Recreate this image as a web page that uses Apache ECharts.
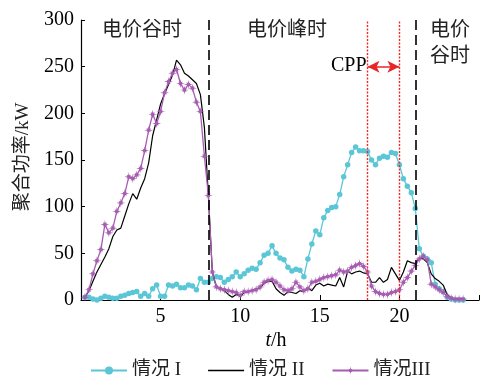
<!DOCTYPE html>
<html>
<head>
<meta charset="utf-8">
<script src="https://cdn.jsdelivr.net/npm/echarts@6/dist/echarts.min.js"></script>
<style>
  html, body { margin: 0; padding: 0; background: #fff; }
  #main { width: 482px; height: 376px; }
</style>
</head>
<body>
<div id="main"></div>
<script>
// 时间 t/h，每 15 min 一个点
var hours = [
  0.25, 0.5, 0.75, 1, 1.25, 1.5, 1.75, 2, 2.25, 2.5, 2.75, 3, 3.25, 3.5, 3.75, 4,
  4.25, 4.5, 4.75, 5, 5.25, 5.5, 5.75, 6, 6.25, 6.5, 6.75, 7, 7.25, 7.5, 7.75, 8,
  8.25, 8.5, 8.75, 9, 9.25, 9.5, 9.75, 10, 10.25, 10.5, 10.75, 11, 11.25, 11.5, 11.75, 12,
  12.25, 12.5, 12.75, 13, 13.25, 13.5, 13.75, 14, 14.25, 14.5, 14.75, 15, 15.25, 15.5, 15.75, 16,
  16.25, 16.5, 16.75, 17, 17.25, 17.5, 17.75, 18, 18.25, 18.5, 18.75, 19, 19.25, 19.5, 19.75, 20,
  20.25, 20.5, 20.75, 21, 21.25, 21.5, 21.75, 22, 22.25, 22.5, 22.75, 23, 23.25, 23.5, 23.75, 24
];
// 情况 I
var case1 = [
  3, 3, 1, 0, 2, 4, 3, 2, 2, 4, 5, 7, 8, 9, 4, 7,
  4, 12, 16, 4, 4, 16, 15, 17, 13, 13, 16, 15, 11, 23, 19, 19,
  23, 25, 24, 19, 22, 25, 30, 25, 28, 32, 34, 33, 40, 48, 50, 58,
  50, 45, 43, 35, 31, 33, 32, 25, 44, 60, 74, 70, 88, 96, 99, 100,
  113, 132, 145, 158, 164, 160, 160, 159, 150, 145, 152, 154, 153, 158, 157, 145,
  130, 122, 115, 98, 55, 47, 44, 40, 17, 12, 9, 3, 1, 0, 0, 0
];
// 情况 II
var case2 = [
  3, 10, 20, 30, 38, 46, 55, 68, 75, 77, 90, 103, 114, 108, 120, 130,
  147, 176, 193, 210, 221, 231, 241, 257, 252, 243, 240, 236, 232, 220, 185, 112,
  30, 14, 12, 10, 6, 3, 6, 4, 8, 9, 10, 12, 13, 18, 20, 20,
  12, 8, 5, 9, 8, 7, 10, 9, 13, 10, 16, 18, 15, 17, 16, 15,
  24, 14, 31, 28, 30, 31, 29, 28, 19, 19, 24, 19, 22, 35, 28, 21,
  30, 42, 40, 39, 45, 44, 40, 28, 23, 20, 16, 6, 2, 1, 1, 1
];
// 情况 III
var case3 = [
  3, 11, 28, 42, 54, 81, 72, 77, 95, 104, 114, 132, 130, 134, 141, 160,
  182, 199, 189, 202, 222, 234, 243, 247, 232, 225, 231, 227, 212, 202, 154, 112,
  30, 14, 12, 11, 10, 9, 8, 5, 9, 9, 10, 11, 14, 19, 21, 22,
  19, 15, 11, 10, 12, 19, 14, 10, 12, 19, 20, 22, 24, 25, 26, 27,
  32, 30, 31, 35, 37, 39, 36, 30, 15, 9, 7, 6, 6, 8, 9, 11,
  19, 24, 31, 37, 44, 47, 43, 17, 14, 11, 8, 4, 2, 1, 1, 1
];
var xTicks = [5, 10, 15, 20];
var yTicks = [0, 50, 100, 150, 200, 250, 300];
var periodLines = [8, 21];   // 谷/峰分界
var cppLines = [18, 20];     // CPP 时段
var cppArrowY = 250;

function pairs(vals) {
  return hours.map(function (t, i) { return [t, vals[i]]; });
}

var font = "'Liberation Serif', 'Noto Sans CJK SC', serif";
var starPath = 'path://M0,-10L1.3,-3.2L4.6,-4.6L3.2,-1.3L10,0L3.2,1.3L4.6,4.6L1.3,3.2L0,10L-1.3,3.2L-4.6,4.6L-3.2,1.3L-10,0L-3.2,-1.3L-4.6,-4.6L-1.3,-3.2Z';

var chart = echarts.init(document.getElementById('main'));
chart.setOption({
  animation: false,
  textStyle: { fontFamily: font },
  grid: { left: 81, right: 2, top: 20, bottom: 76 },
  xAxis: {
    type: 'value', min: 0, max: 25, interval: 5,
    axisLine: { lineStyle: { color: '#000', width: 1.2 } },
    axisTick: { inside: true, length: 5, lineStyle: { color: '#000' } },
    axisLabel: {
      color: '#000', fontSize: 20, fontFamily: font, margin: 7,
      formatter: function (v) { return xTicks.indexOf(v) >= 0 ? String(v) : ''; }
    },
    splitLine: { show: false }
  },
  yAxis: {
    type: 'value', min: 0, max: 300, interval: 50,
    axisLine: { show: true, lineStyle: { color: '#000', width: 1.2 } },
    axisTick: { show: true, inside: true, length: 4, lineStyle: { color: '#000' } },
    axisLabel: {
      color: '#000', fontSize: 20, fontFamily: font, margin: 7,
      formatter: function (v) { return yTicks.indexOf(v) >= 0 ? String(v) : ''; }
    },
    splitLine: { show: false }
  },
  legend: {
    data: [
      '情况 I',
      { name: '情况 II', icon: 'path://M0,0L36,0L36,1.3L0,1.3Z' },
      '情况III'
    ],
    left: 85, top: 356,
    itemWidth: 36, itemHeight: 10, itemGap: 27,
    textStyle: { color: '#222', fontSize: 19, fontFamily: font }
  },
  series: [
    {
      name: '情况 I', type: 'line', data: pairs(case1),
      symbol: 'circle', symbolSize: 5.5,
      itemStyle: { color: '#5bc7d6' },
      lineStyle: { color: '#5bc7d6', width: 1.3 },
      z: 2
    },
    {
      name: '情况 II', type: 'line', data: pairs(case2),
      symbol: 'none',
      itemStyle: { color: '#000' },
      lineStyle: { color: '#000', width: 1.2 },
      z: 3
    },
    {
      name: '情况III', type: 'line', data: pairs(case3),
      symbol: starPath, symbolSize: 9,
      itemStyle: { color: '#a65cb0' },
      lineStyle: { color: '#a65cb0', width: 1.3 },
      z: 4
    },
    {
      name: 'ann', type: 'line', data: [],
      markLine: {
        silent: true, symbol: 'none', label: { show: false },
        data: periodLines.map(function (x) {
          return { xAxis: x, lineStyle: { color: '#000', type: [10, 5], width: 1.6 } };
        }).concat(cppLines.map(function (x) {
          return { xAxis: x, lineStyle: { color: '#f0282a', type: [2, 1.5], width: 1.4 } };
        }))
      }
    },
    {
      name: 'arrow', type: 'line', data: [],
      markLine: {
        silent: true, symbol: ['arrow', 'arrow'], symbolSize: [9, 12],
        label: { show: false },
        lineStyle: { color: '#e8262a', type: 'solid', width: 1.5 },
        data: [[{ coord: [cppLines[0], cppArrowY] }, { coord: [cppLines[1], cppArrowY] }]]
      }
    }
  ],
  graphic: [
    { type: 'text', left: 102, top: 21, style: { text: '电价谷时', font: '20px ' + font, fill: '#222' } },
    { type: 'text', left: 247, top: 21, style: { text: '电价峰时', font: '20px ' + font, fill: '#222' } },
    { type: 'text', left: 430, top: 21, style: { text: '电价', font: '20px ' + font, fill: '#222' } },
    { type: 'text', left: 430, top: 47, style: { text: '谷时', font: '20px ' + font, fill: '#222' } },
    { type: 'text', left: 331, top: 56, style: { text: 'CPP', font: '20px ' + font, fill: '#000' } },
    {
      type: 'text', x: 23, y: 157, rotation: Math.PI / 2,
      style: { text: '聚合功率/kW', font: '19px ' + font, fill: '#222', textAlign: 'center', textVerticalAlign: 'middle' }
    },
    {
      type: 'text', x: 276, y: 341,
      style: {
        text: '{i|t}/h', font: '20px ' + font, fill: '#000', textAlign: 'center', textVerticalAlign: 'middle',
        rich: { i: { fontStyle: 'italic', fontSize: 20, fontFamily: font } }
      }
    }
  ]
});
</script>
</body>
</html>
